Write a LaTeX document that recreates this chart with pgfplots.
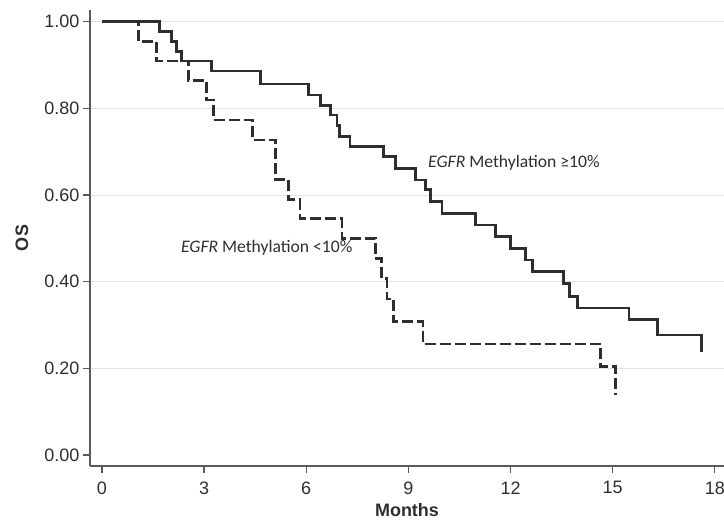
\documentclass[border=0pt]{standalone}
\usepackage{fontspec}
\setmainfont{Liberation Sans}
\newfontfamily\calib{Carlito}
\usepackage{pgfplots}
\pgfplotsset{compat=1.18}
\definecolor{curve}{HTML}{2E2E2E}
\definecolor{gridc}{HTML}{E2E2E2}
\definecolor{axisc}{HTML}{5A5A5A}
\begin{document}
\begin{tikzpicture}
\useasboundingbox (0pt,0pt) rectangle (724pt,520pt);
\begin{axis}[
  at={(90pt,54pt)}, anchor=south west,
  scale only axis, width=634pt, height=456pt,
  xmin=-0.35, xmax=18.27, ymin=-0.0254, ymax=1.027,
  axis x line*=bottom, axis y line*=left,
  axis line style={axisc, line width=1.2pt, -},
  xtick={0,3,6,9,12,15,18},
  ytick={0.2,0.4,0.6,0.8,1.0},
  extra y ticks={0}, extra y tick style={grid=none},
  ymajorgrids, grid style={gridc, line width=1pt},
  tick align=outside, major tick length=7pt,
  tick style={axisc, line width=1.2pt},
  ticklabel style={font=\fontsize{18}{20}\selectfont, text=curve},
  xticklabel style={yshift=-5pt},
  /pgf/number format/assume math mode=true,
  yticklabel style={/pgf/number format/.cd, fixed, fixed zerofill, precision=2, assume math mode=true},
  xlabel={\bfseries Months}, ylabel={\bfseries OS},
  label style={font=\fontsize{18}{20}\selectfont, text=curve},
  xlabel style={at={(axis description cs:0.5,0)}, anchor=center, yshift=-44pt},
  ylabel style={at={(axis description cs:0,0.5)}, anchor=center, yshift=68pt},
  clip=false,
]
\addplot[const plot, draw=curve, line width=2.7pt, dash pattern=on 11pt off 4pt] coordinates {
(0,1) (1.07,0.954) (1.61,0.909) (2.54,0.865) (3.08,0.819) (3.27,0.773) (4.43,0.727)
(5.09,0.636) (5.48,0.590) (5.82,0.546) (7.05,0.500) (8.03,0.454) (8.22,0.408)
(8.37,0.360) (8.57,0.308) (9.43,0.256) (14.65,0.204) (15.09,0.138)
};
\addplot[const plot, draw=curve, line width=2.7pt] coordinates {
(0,1) (1.70,0.977) (2.05,0.955) (2.2,0.932) (2.34,0.909) (3.22,0.886) (4.65,0.856)
(6.07,0.831) (6.41,0.806) (6.71,0.785) (6.9,0.760) (6.98,0.735) (7.29,0.712)
(8.27,0.689) (8.62,0.662) (9.2,0.635) (9.5,0.612) (9.65,0.585) (9.99,0.558)
(10.97,0.531) (11.56,0.504) (12.0,0.477) (12.44,0.450) (12.64,0.423) (13.55,0.396)
(13.74,0.365) (13.96,0.339) (15.48,0.312) (16.31,0.277) (17.6,0.237)
};
\node[font=\calib\fontsize{17.6}{20}\selectfont, text=curve] at (axis cs:12.1,0.674) {\textit{EGFR} Methylation ≥10\%};
\node[font=\calib\fontsize{17.6}{20}\selectfont, text=curve] at (axis cs:4.84,0.478) {\textit{EGFR} Methylation <10\%};
\end{axis}
\end{tikzpicture}
\end{document}
